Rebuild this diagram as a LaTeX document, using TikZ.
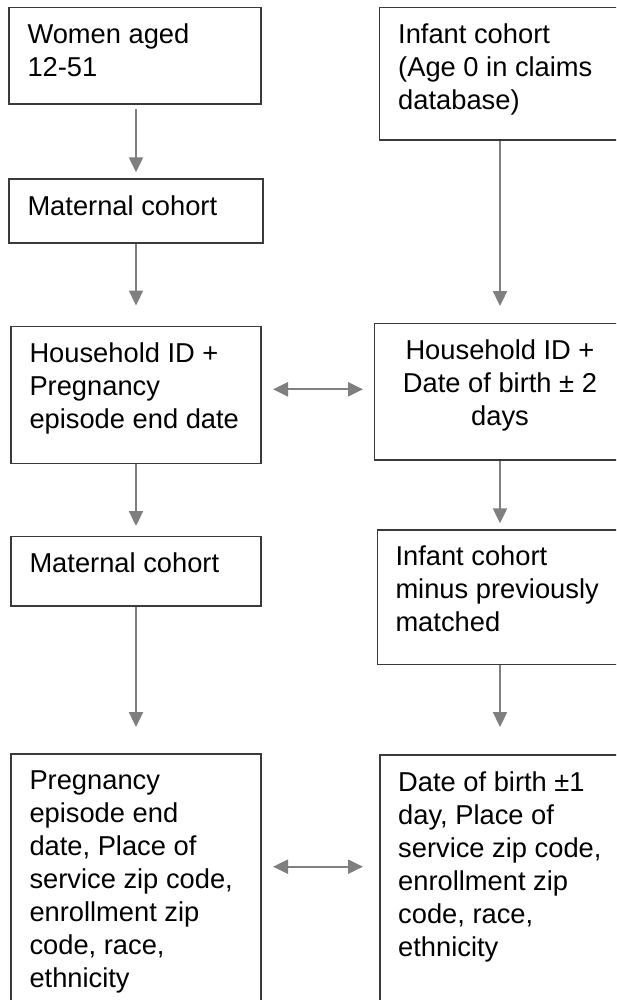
\documentclass[tikz,border=0pt]{standalone}
\usepackage{fontspec}
\setmainfont{Liberation Sans}
\usetikzlibrary{arrows.meta}
\definecolor{arrowgray}{HTML}{7F7F7F}
\definecolor{boxline}{HTML}{3A3A3A}

\begin{document}
\begin{tikzpicture}[x=1pt, y=-1pt]
	\tikzstyle{box}=[draw=boxline, line width=1.3pt, anchor=north west, inner sep=0pt]
	\tikzstyle{txt}=[anchor=north west, align=left, inner sep=0pt, font=\fontsize{27.3pt}{33pt}\selectfont]
	\tikzstyle{flow}=[draw=arrowgray, line width=2.3pt, >={Triangle[length=15pt, width=14pt]}, ->]
	\tikzstyle{link}=[flow, <->]

	\useasboundingbox (0, 0) rectangle (616, 1000);
	\clip (0, 0) rectangle (616, 1000);

	\node[box, minimum width=252pt, minimum height=96.6pt] (women) at (8.3, 6.7) {};
	\node[box, minimum width=254pt, minimum height=64pt] (matcoh) at (8.3, 178.3) {};
	\node[box, minimum width=250pt, minimum height=137pt] (hhpreg) at (10.3, 325.7) {};
	\node[box, minimum width=250pt, minimum height=69.6pt] (matcoh2) at (10.3, 535.7) {};
	\node[box, minimum width=250pt, minimum height=300pt] (pregvars) at (10.3, 753.3) {};

	\node[box, minimum width=250pt, minimum height=132.6pt] (infant) at (379, 6.7) {};
	\node[box, minimum width=252.6pt, minimum height=136.3pt] (hhdob) at (373.7, 323) {};
	\node[box, minimum width=250pt, minimum height=134.7pt] (infrest) at (376.7, 529.3) {};
	\node[box, minimum width=250pt, minimum height=300pt] (dobvars) at (379.3, 754.3) {};

	\node[txt] (women-t) at ([shift={(19pt,-17pt)}]women.north west) {Women aged\\12-51};
	\node[txt] (matcoh-t) at ([shift={(19pt,-17pt)}]matcoh.north west) {Maternal cohort};
	\node[txt] (hhpreg-t) at ([shift={(19pt,-17pt)}]hhpreg.north west) {Household ID +\\Pregnancy\\episode end date};
	\node[txt] (matcoh2-t) at ([shift={(19pt,-17pt)}]matcoh2.north west) {Maternal cohort};
	\node[txt] (pregvars-t) at ([shift={(19pt,-17.4pt)}]pregvars.north west) {Pregnancy\\episode end\\date, Place of\\service zip code,\\enrollment zip\\code, race,\\ethnicity};

	\node[txt] (infant-t) at ([shift={(19pt,-17pt)}]infant.north west) {Infant cohort\\(Age 0 in claims\\database)};
	\node[txt, anchor=north, align=center] (hhdob-t) at ([shift={(126.3pt,-17pt)}]hhdob.north west) {Household ID +\\Date of birth ± 2\\days};
	\node[txt] (infrest-t) at ([shift={(18.6pt,-16pt)}]infrest.north west) {Infant cohort\\minus previously\\matched};
	\node[txt] (dobvars-t) at ([shift={(18.7pt,-17.4pt)}]dobvars.north west) {Date of birth ±1\\day, Place of\\service zip code,\\enrollment zip\\code, race,\\ethnicity};

	\coordinate (colL) at (136, 0);
	\coordinate (colR) at (500, 0);
	\coordinate (rowA) at (0, 389.3);
	\coordinate (rowB) at (0, 866.7);

	\draw[flow, shorten <=4.4pt, shorten >=6pt] (women.south -| colL) -- (matcoh.north -| colL);
	\draw[flow, shorten >=20.2pt] (matcoh.south -| colL) -- (hhpreg.north -| colL);
	\draw[flow, shorten >=9.7pt] (hhpreg.south -| colL) -- (matcoh2.north -| colL);
	\draw[flow, shorten >=26.3pt] (matcoh2.south -| colL) -- (pregvars.north -| colL);

	\draw[flow, shorten >=17pt] (infant.south -| colR) -- (hhdob.north -| colR);
	\draw[flow, shorten >=6pt] (hhdob.south -| colR) -- (infrest.north -| colR);
	\draw[flow, shorten >=27.3pt] (infrest.south -| colR) -- (dobvars.north -| colR);

	\draw[link, shorten <=11.4pt, shorten >=10.7pt] (hhpreg.east |- rowA) -- (hhdob.west |- rowA);
	\draw[link, shorten <=11.4pt, shorten >=16.3pt] (pregvars.east |- rowB) -- (dobvars.west |- rowB);
\end{tikzpicture}
\end{document}
